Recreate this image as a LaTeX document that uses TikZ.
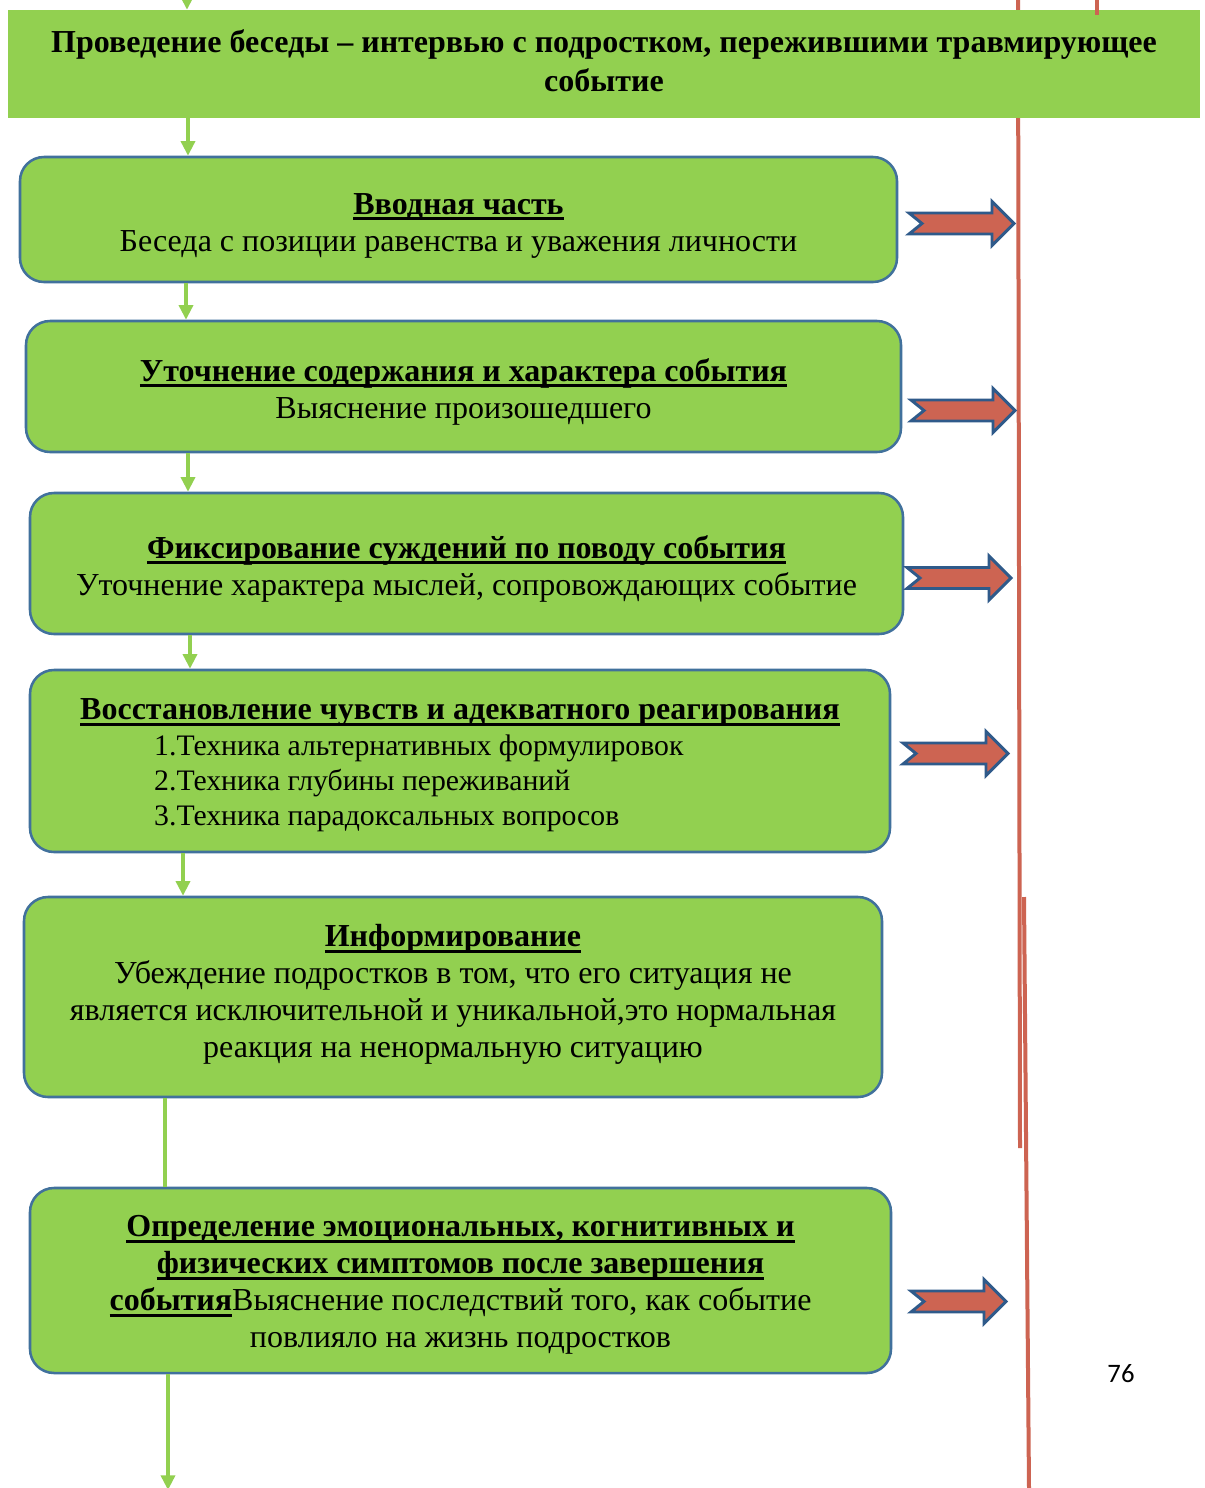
\documentclass[tikz,border=0pt]{standalone}
\usepackage{fontspec}
\setmainfont{Liberation Serif}
\newfontfamily\pagefont{Carlito}
\usetikzlibrary{arrows.meta,calc}
\definecolor{boxgreen}{HTML}{92D050}
\definecolor{boxblue}{HTML}{41719C}
\definecolor{redfill}{HTML}{CD6452}
\definecolor{arrowblue}{HTML}{2F5A8A}
\newsavebox\ulbox
\newcommand\uln[1]{\sbox\ulbox{#1}\rlap{\vrule height -2.2pt depth 4.4pt width \wd\ulbox}\usebox\ulbox}
\newcommand\listfont{\fontsize{22.3}{26.5}\selectfont}
\newcommand\blockarrow[3]{% tail x, centre y, tip x
  \draw[redarrow] (#1,#2-10.5) -- (#3-22,#2-10.5) -- (#3-22,#2-22) -- (#3,#2)
    -- (#3-22,#2+22) -- (#3-22,#2+10.5) -- (#1,#2+10.5) -- (#1+13,#2) -- cycle;}
\tikzset{
  stepbox/.style={draw=boxblue, line width=1.9pt, fill=boxgreen, rounded corners=18pt,
    inner sep=0pt},
  steptext/.style={align=center, inner sep=0pt, font=\fontsize{24}{27.75}\selectfont},
  headbox/.style={fill=boxgreen, inner sep=0pt,
    minimum width=894pt, minimum height=81pt},
  headtext/.style={align=center, inner sep=0pt, font=\bfseries\fontsize{24}{29.25}\selectfont},
  conn/.style={draw=boxgreen, line width=2.6pt, -{Triangle[length=11pt,width=10.5pt]}},
  plainconn/.style={draw=boxgreen, line width=2.6pt},
  redline/.style={draw=redfill, line width=3pt},
  redarrow/.style={fill=redfill, draw=arrowblue, line width=2.2pt, line join=miter}
}
\begin{document}
\begin{tikzpicture}[x=0.75pt,y=-0.75pt]
\clip (0,0) rectangle (1205,1488);
\fill[white] (0,0) rectangle (1205,1488);

% red vertical lines (behind header)
\coordinate (ra1) at (1018,0);
\coordinate (ra2) at (1020,1148);
\coordinate (rb1) at (1024,897);
\coordinate (rb2) at (1029,1488);
\draw[redline] (ra1) -- (ra2);
\draw[redline] (rb1) -- (rb2);

% header
\node[headbox] (hdr) at (604,64) {};
\node[headtext] (hdrt) at ($(hdr.center)+(0,-3.5)$) {Проведение беседы – интервью с подростком, пережившими травмирующее\\событие};

\coordinate (rc1) at (1097,0);
\coordinate (rc2) at (1097,15);
\draw[redline] (rc1) -- (rc2);

% boxes
\node[stepbox, minimum width=657.75pt, minimum height=93.75pt] (b1) at (458.5,219.5) {};
\node[steptext] (t1) at ($(b1.center)+(0,6)$)
  {\uln{\textbf{Вводная часть}}\\Беседа с позиции равенства и уважения личности};
\node[stepbox, minimum width=656.25pt, minimum height=98.25pt] (b2) at (463.5,386.5) {};
\node[steptext] (t2) at ($(b2.center)+(0,5)$)
  {\uln{\textbf{Уточнение содержания и характера события}}\\Выяснение произошедшего};
\node[stepbox, minimum width=654.75pt, minimum height=105.75pt] (b3) at (466.5,563.5) {};
\node[steptext] (t3) at ($(b3.center)+(0,5.5)$)
  {\uln{\textbf{Фиксирование суждений по поводу события}}\\Уточнение характера мыслей, сопровождающих событие};
\node[stepbox, minimum width=645pt, minimum height=136.5pt] (b4) at (460,761) {};
\node[steptext, align=left, font=\fontsize{24}{26.5}\selectfont] (t4) at ($(b4.center)+(0,4.5)$)
  {\uln{\textbf{Восстановление чувств и адекватного реагирования}}\\
   \hspace*{55.5pt}{\listfont 1.Техника альтернативных формулировок}\\
   \hspace*{55.5pt}{\listfont 2.Техника глубины переживаний}\\
   \hspace*{55.5pt}{\listfont 3.Техника парадоксальных вопросов}};
\node[stepbox, minimum width=643.5pt, minimum height=150pt] (b5) at (453,997) {};
\node[steptext] (t5) at ($(b5.center)+(0,-2.5)$)
  {\uln{\textbf{Информирование}}\\Убеждение подростков в том, что его ситуация не\\является исключительной и уникальной,это нормальная\\реакция на ненормальную ситуацию};
\node[stepbox, minimum width=645.75pt, minimum height=138.75pt] (b6) at (460.5,1280.5) {};
\node[steptext] (t6) at ($(b6.center)+(0,4.5)$)
  {\uln{\textbf{Определение эмоциональных, когнитивных и}}\\
   \uln{\textbf{физических симптомов после завершения}}\\
   \uln{\textbf{события}}Выяснение последствий того, как событие\\
   повлияло на жизнь подростков};

% green connectors
\coordinate (top) at (187,-30);
\coordinate (bot) at (168,1490);
\draw[conn] (top) -- (hdr.north -| top);
\coordinate (x1) at (188,0);
\draw[conn] (hdr.south -| x1) -- (b1.north -| x1);
\coordinate (x2) at (186,0);
\draw[conn] (b1.south -| x2) -- (b2.north -| x2);
\coordinate (x3) at (188,0);
\draw[conn] (b2.south -| x3) -- (b3.north -| x3);
\coordinate (x4) at (190,0);
\draw[conn] (b3.south -| x4) -- (b4.north -| x4);
\coordinate (x5) at (183,0);
\draw[conn] (b4.south -| x5) -- (b5.north -| x5);
\coordinate (x6) at (165,0);
\draw[plainconn] (b5.south -| x6) -- (b6.north -| x6);
\draw[conn] (b6.south -| bot) -- (bot);

% block arrows
\blockarrow{909}{223.5}{1014}
\blockarrow{911}{410.5}{1015}
\blockarrow{907}{578}{1011}
\blockarrow{903}{753.5}{1008}
\blockarrow{911}{1301.5}{1006}

% page number
\node[font=\pagefont\fontsize{20}{24}\selectfont] (pg) at (1121,1374) {76};
\end{tikzpicture}
\end{document}
